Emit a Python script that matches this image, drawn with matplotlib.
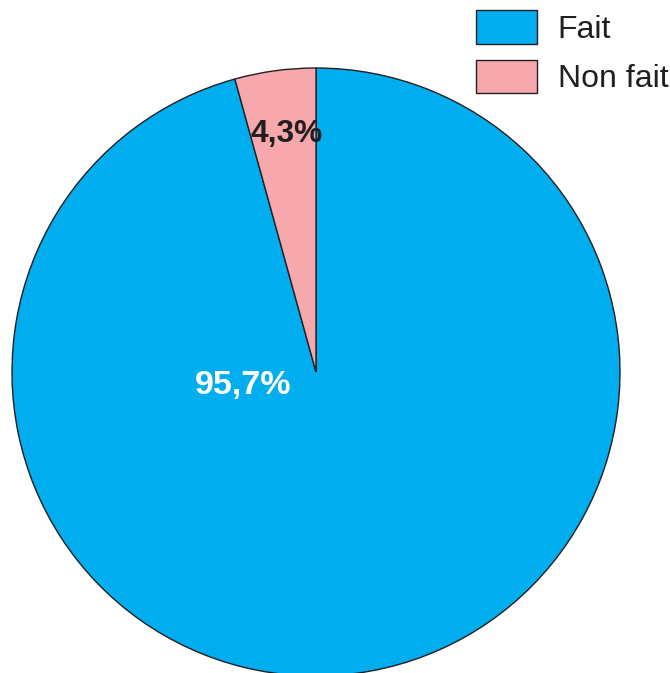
import matplotlib
matplotlib.use("Agg")
import matplotlib.pyplot as plt
import numpy as np

plt.rcParams["font.family"] = ["Liberation Sans", "DejaVu Sans"]

labels = ["Fait", "Non fait"]
values = [95.7, 4.3]
colors = ["#00aeef", "#f6a8ad"]
pct_text = ["95,7%", "4,3%"]
edge = "#231f20"

W, H = 670, 673
fig = plt.figure(figsize=(W / 100, H / 100), dpi=100)
ax = fig.add_axes([0, 0, 1, 1])

cx, cy, r = 316, H - 372, 304
start = 90 + values[1] / 100 * 360
wedges, _ = ax.pie(values, colors=colors, startangle=start, center=(cx, cy),
                   radius=r, counterclock=True,
                   wedgeprops=dict(edgecolor=edge, linewidth=1.0))

# small slice label sits inside the wedge, big one left of centre
ang = np.deg2rad(90 + values[1] / 100 * 180 - 0.8)
ax.text(cx + 0.79 * r * np.cos(ang), cy + 0.79 * r * np.sin(ang), pct_text[1],
        ha="center", va="center", fontsize=22.8, fontweight="bold", color=edge)
ax.text(cx - 0.24 * r, cy - 0.045 * r, pct_text[0],
        ha="center", va="center", fontsize=24.5, fontweight="bold", color="white")

ax.set_xlim(0, W)
ax.set_ylim(0, H)
ax.set_aspect("equal")
ax.axis("off")

leg = ax.legend(wedges, labels, loc="upper left", bbox_to_anchor=(470 / W, 1 - 4 / H),
                frameon=False, fontsize=23, handlelength=1.9, handleheight=1.25,
                handletextpad=0.65, labelspacing=0.46, borderaxespad=0, borderpad=0.2)
for p in leg.get_patches():
    p.set_edgecolor(edge)
    p.set_linewidth(1.0)
for t in leg.get_texts():
    t.set_color(edge)

fig.savefig("out.png", dpi=100)
